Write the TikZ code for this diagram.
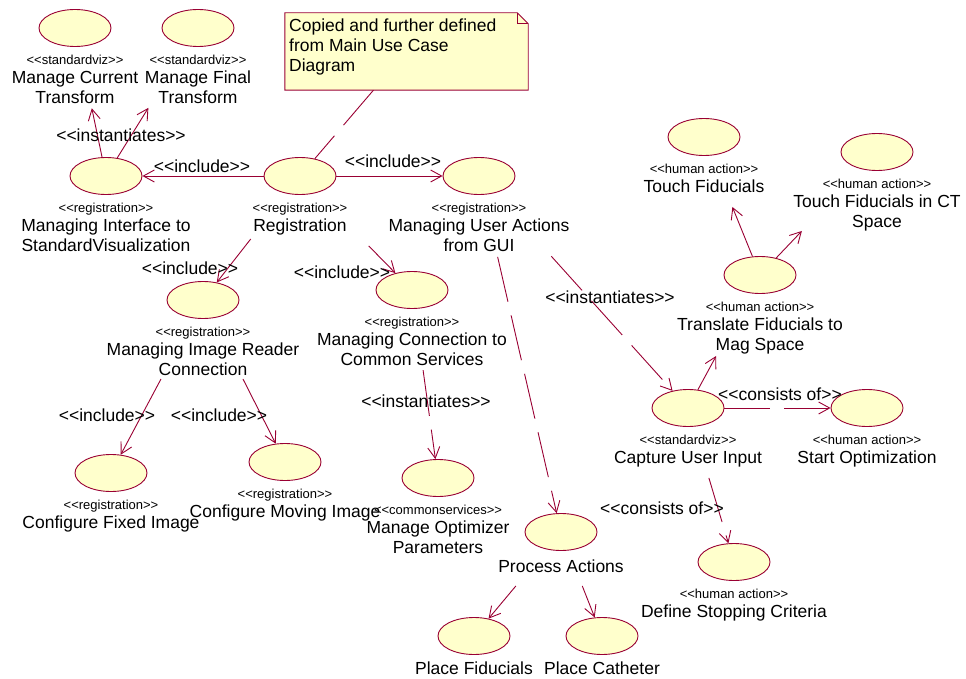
\documentclass[tikz,border=0pt]{standalone}
\usepackage{fontspec}
\setmainfont{Liberation Sans}[Ligatures=TeXOff]
\usetikzlibrary{arrows.meta,calc,shapes.geometric}
\definecolor{rosered}{HTML}{990033}
\definecolor{ucfill}{HTML}{FFFFCC}

% use case: ellipse, stereotype line and name below it
\newcommand{\ucase}[5]{%
  \node[uc] (#1) at (#2,#3) {};
  \node[ster] (#1-s) at (#2,#3+31.5) {#4};
  \node[ucname] (#1-l) at (#2,#3+43) {#5};
}
% use case without a stereotype
\newcommand{\ucplain}[5]{%
  \node[uc] (#1) at (#2,#3) {};
  \node[ucname] (#1-l) at (#2,#3+#5-6.5) {#4};
}

\begin{document}
\begin{tikzpicture}[x=1pt,y=-1pt,
  uc/.style={ellipse,draw=rosered,fill=ucfill,line width=0.9pt,
    minimum width=72pt,minimum height=37pt,inner sep=0pt},
  ster/.style={font=\fontsize{13}{15}\selectfont,text height=9.5pt,
    text depth=0pt,inner sep=0pt},
  ucname/.style={font=\fontsize{17.5}{20}\selectfont,align=center,
    anchor=north,inner sep=0pt},
  elabel/.style={font=\fontsize{17.5}{20}\selectfont,text height=12.6pt,
    text depth=0pt,inner sep=0pt},
  link/.style={draw=rosered,line width=0.9pt},
  arr/.style={link,-{Straight Barb[length=11pt,width=12pt]}},
  dep/.style={arr,dash pattern=on 46pt off 14pt},
  notelink/.style={link,dash pattern=on 46pt off 14pt}]

\useasboundingbox (0,0) rectangle (966,679);

% note
\node[minimum width=243pt,minimum height=77pt,inner sep=0pt] (note) at (406.5,51.5) {};
\draw[link,fill=ucfill] (note.north west) -- ([xshift=-11pt]note.north east)
  -- ([yshift=-11pt]note.north east) -- (note.south east) -- (note.south west) -- cycle;
\draw[link] ([xshift=-11pt]note.north east) -- ([xshift=-11pt,yshift=-11pt]note.north east)
  -- ([yshift=-11pt]note.north east);
\node[font=\fontsize{17.5}{20}\selectfont,align=left,anchor=north west,inner sep=0pt]
  (note-t) at (289,18.5) {Copied and further defined\\from Main Use Case\\Diagram};

% use cases
\ucase{mct}{75}{28}{<<standardviz>>}{Manage Current\\Transform}
\ucase{mft}{198}{28}{<<standardviz>>}{Manage Final\\Transform}
\ucase{mit}{106}{176}{<<registration>>}{Managing Interface to\\StandardVisualization}
\ucase{reg}{300}{176}{<<registration>>}{Registration}
\ucase{mua}{479}{176}{<<registration>>}{Managing User Actions\\from GUI}
\ucase{mir}{203}{300}{<<registration>>}{Managing Image Reader\\Connection}
\ucase{mcc}{412}{290}{<<registration>>}{Managing Connection to\\Common Services}
\ucase{cfi}{111}{473}{<<registration>>}{Configure Fixed Image}
\ucase{cmi}{285}{462}{<<registration>>}{Configure Moving Image}
\ucase{mop}{438}{478}{<<commonservices>>}{Manage Optimizer\\Parameters}
\ucplain{pa}{561}{532}{Process Actions}{34}
\ucplain{pf}{474}{636}{Place Fiducials}{32}
\ucplain{pc}{602}{636}{Place Catheter}{32}
\ucase{cui}{688}{408}{<<standardviz>>}{Capture User Input}
\ucase{so}{867}{408}{<<human action>>}{Start Optimization}
\ucase{dsc}{734}{562}{<<human action>>}{Define Stopping Criteria}
\ucase{tf}{704}{137}{<<human action>>}{Touch Fiducials}
\ucase{tfct}{877}{152}{<<human action>>}{Touch Fiducials in CT\\Space}
\ucase{tfm}{760}{275}{<<human action>>}{Translate Fiducials to\\Mag Space}

% connectors
\draw[arr] (mit) -- ($(mct)!82pt!(mit)$);
\draw[arr] (mit) -- ($(mft)!94pt!(mit)$);
\draw[arr] (reg) -- (mit);
\draw[arr] (reg) -- (mua);
\draw[arr] ($(reg)!80pt!(mir)$) -- (mir);
\draw[arr] ($(reg)!98pt!(mcc)$) -- (mcc);
\draw[dep] ($(mua)!83pt!(pa)$) -- (pa);
\draw[dep] ($(mcc)!81pt!(mop)$) -- (mop);
\draw[dep] ($(mua)!108pt!(cui)$) -- (cui);
\draw[arr] ($(mir)!89.5pt!(cfi)$) -- (cfi);
\draw[arr] ($(mir)!88.5pt!(cmi)$) -- (cmi);
\draw[arr] (cui) -- ($(tfm)!92pt!(cui)$);
\draw[arr] (tfm) -- ($(tf)!75.5pt!(tfm)$);
\draw[arr] (tfm) -- ($(tfct)!109pt!(tfm)$);
\draw[dep] (cui) -- (so);
\draw[dep] ($(cui)!73pt!(dsc)$) -- (dsc);
\draw[arr] ($(pa)!70.4pt!(pf)$) -- (pf);
\draw[arr] ($(pa)!58pt!(pc)$) -- (pc);
\draw[notelink] (note) -- (reg);

% connector labels
\node[elabel] (l1) at (121,135) {<<instantiates>>};
\node[elabel] (l2) at (202,166) {<<include>>};
\node[elabel] (l3) at (393,161) {<<include>>};
\node[elabel] (l4) at (190,268) {<<include>>};
\node[elabel] (l5) at (342,272) {<<include>>};
\node[elabel] (l6) at (107,415) {<<include>>};
\node[elabel] (l7) at (219,415) {<<include>>};
\node[elabel] (l8) at (426,401) {<<instantiates>>};
\node[elabel] (l9) at (610,297) {<<instantiates>>};
\node[elabel] (l10) at (780,394) {<<consists of>>};
\node[elabel] (l11) at (662,508) {<<consists of>>};
\end{tikzpicture}
\end{document}
